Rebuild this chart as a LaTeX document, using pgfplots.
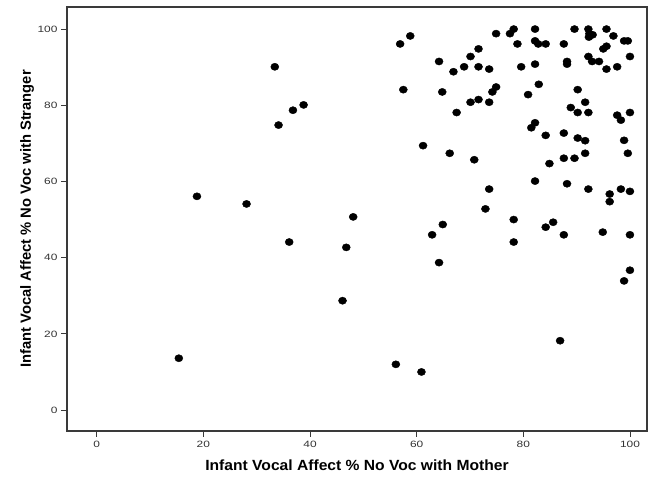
\documentclass[border=0pt]{standalone}
\usepackage{fontspec}
\setmainfont{Liberation Sans}
\usepackage{graphicx}
\usepackage{pgfplots}
\pgfplotsset{compat=1.18}
\definecolor{axisgray}{HTML}{3A3A3A}
\definecolor{ticktext}{HTML}{333333}
\begin{document}
\begin{tikzpicture}[x=1bp,y=1bp]
\path[use as bounding box] (0,0) rectangle (648,481);
\begin{axis}[
  at={(67bp,50bp)}, anchor=south west,
  scale only axis, width=580bp, height=424bp,
  xmin=-5.57, xmax=103.2, ymin=-5.5, ymax=105.8,
  xtick={0,20,40,60,80,100}, ytick={0,20,40,60,80,100},
  tick align=outside, xtick pos=bottom, ytick pos=left,
  major tick length=6bp,
  axis line style={axisgray, line width=1.1bp},
  every tick/.style={axisgray, line width=0.9bp},
  tick label style={font=\fontsize{9.2}{11}\selectfont, text=ticktext},
  xticklabel={\scalebox{1.3}[1]{\pgfmathprintnumber[assume math mode=true]{\tick}}},
  yticklabel={\scalebox{1.3}[1]{\pgfmathprintnumber[assume math mode=true]{\tick}}},
  xticklabel style={yshift=-1bp},
  xlabel={\scalebox{1.06}[1]{Infant Vocal Affect \% No Voc with Mother}},
  ylabel={Infant Vocal Affect \% No Voc with Stranger},
  label style={font=\fontsize{14.8}{17}\selectfont\bfseries},
  xlabel style={at={(axis description cs:0.5,-0.08)}, anchor=center},
  ylabel style={at={(axis description cs:-0.069,0.5)}, anchor=center},
  clip=false,
]
\addplot[only marks, mark=*, mark size=3.6bp, mark options={xscale=1.12}, black] table {
x y
15.4 13.6
18.8 56.1
28.1 54.1
33.4 90.1
34.1 74.8
36.1 44.1
36.8 78.7
38.8 80.1
46.1 28.7
46.8 42.7
48.1 50.7
56.1 12.0
56.9 96.1
57.5 84.1
58.8 98.2
60.9 10.0
61.2 69.4
62.9 46.0
64.2 91.5
64.2 38.7
64.8 83.5
64.9 48.7
66.2 67.4
66.9 88.8
67.5 78.1
68.9 90.1
70.1 92.8
70.1 80.8
70.8 65.7
71.6 94.8
71.6 90.1
71.6 81.5
72.9 52.8
73.6 89.5
73.6 80.8
73.6 58.0
74.2 83.5
74.9 84.8
74.9 98.8
77.5 98.8
78.2 100
78.2 50.0
78.2 44.1
78.9 96.1
79.6 90.1
80.9 82.8
81.5 74.1
82.2 100
82.2 96.9
82.2 90.8
82.2 75.4
82.2 60.1
82.8 96.1
82.9 85.5
84.2 96.1
84.2 72.1
84.2 48.0
84.9 64.7
85.6 49.3
86.9 18.2
87.6 96.1
87.6 72.7
87.6 66.1
87.6 46.0
88.2 91.5
88.2 90.8
88.2 59.4
88.9 79.4
89.6 100
89.6 66.1
90.2 84.1
90.2 78.1
90.2 71.4
91.6 80.8
91.6 70.7
91.6 67.4
92.2 100
92.4 98.8
93.0 98.5
92.3 97.9
92.2 92.8
92.2 78.1
92.2 58.0
92.9 91.5
94.2 91.5
94.9 46.7
95.0 94.8
95.6 95.5
95.6 100
95.6 89.5
96.2 56.7
96.2 54.7
96.9 98.2
97.6 90.1
97.6 77.4
98.3 76.1
98.3 58.0
98.9 96.9
98.9 70.8
98.9 33.9
99.6 96.9
99.6 67.4
100 92.8
100 78.1
100 57.4
100 46.0
100 36.7
};
\end{axis}
\end{tikzpicture}
\end{document}
